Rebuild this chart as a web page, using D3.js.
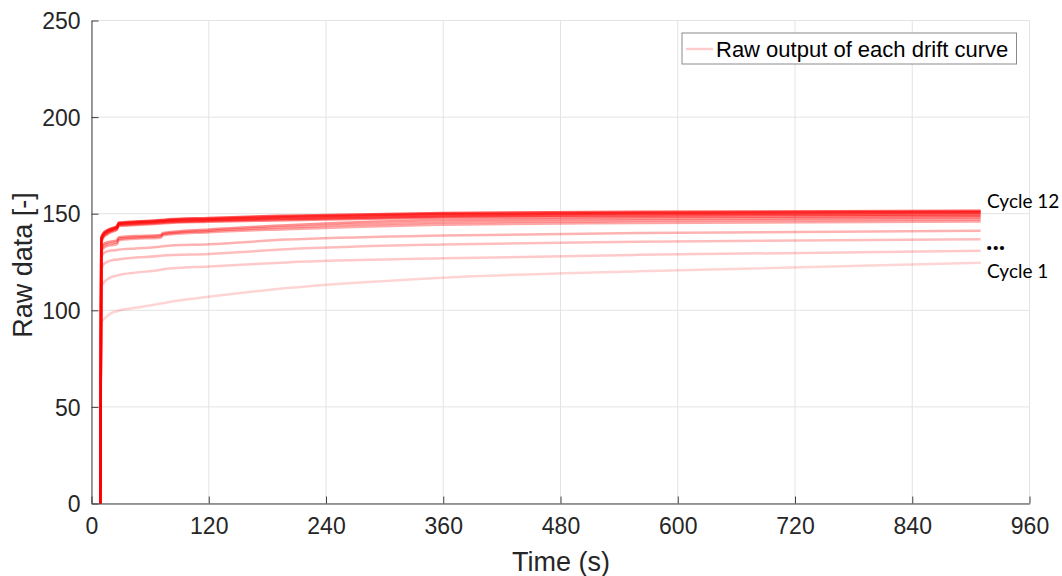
<!DOCTYPE html>
<html>
<head>
<meta charset="utf-8">
<script src="https://cdn.jsdelivr.net/npm/d3@7"></script>
<style>
  html, body { margin: 0; padding: 0; background: #fff; }
  svg { display: block; }
</style>
</head>
<body>
<svg id="chart" width="1062" height="576"></svg>
<script>
// ---- data ----
const times = [9, 10, 12, 16, 22, 26, 28, 45, 71, 73, 120, 200, 360, 560, 910];
const cycle1  = [0, 94, 95, 97, 99, 99.5, 99.8, 101.3, 103.5, 103.7, 107, 111.5, 116.9, 120.2, 124.6];
const cycle2  = [0, 112, 114, 116, 117.5, 118, 118.3, 119.5, 121, 121.2, 122.7, 124.8, 126.9, 128.7, 130.8];
const cycle3  = [0, 121, 123.5, 125, 126, 126.2, 126.4, 127.3, 128.2, 128.4, 129.2, 131.6, 134.1, 135.5, 136.8];
const cycle4  = [0, 127, 129.5, 130.5, 131, 131.2, 131.4, 132, 133, 133.2, 134.2, 136.6, 138.7, 140, 141.2];
const cycle5  = [0, 130, 132, 133.2, 133.8, 134.2, 136.3, 137, 137.6, 138.8, 140.4, 142, 144.3, 145.2, 146];
const cycle6  = [0, 131, 133.2, 134.2, 134.8, 135.2, 137, 137.7, 138.3, 139.4, 141.1, 143, 145.5, 146.3, 147];
const cycle7  = [0, 132, 134.2, 135.2, 135.8, 136.2, 137.8, 138.4, 139, 140, 141.8, 144, 146.7, 147.4, 148];
const cycle8  = [0, 135, 137.5, 139.3, 140.8, 141.7, 143.7, 144.2, 144.9, 145, 145.8, 146.6, 148, 148.4, 148.8];
const cycle9  = [0, 136, 138.2, 140, 141.4, 142.2, 144.2, 144.7, 145.4, 145.5, 146.3, 147.2, 148.6, 149.1, 149.6];
const cycle10 = [0, 136.5, 138.8, 140.5, 141.9, 142.7, 144.6, 145.2, 145.9, 146, 146.8, 147.8, 149.2, 149.8, 150.3];
const cycle11 = [0, 137, 139.3, 141, 142.3, 143.1, 145, 145.6, 146.3, 146.4, 147.3, 148.4, 149.8, 150.4, 150.9];
const cycle12 = [0, 137.5, 139.8, 141.4, 142.7, 143.5, 145.4, 146, 146.7, 146.8, 147.8, 149, 150.4, 151, 151.5];
const cycleSeries = [cycle1, cycle2, cycle3, cycle4, cycle5, cycle6, cycle7, cycle8, cycle9, cycle10, cycle11, cycle12];
const xTicks = [0, 120, 240, 360, 480, 600, 720, 840, 960];
const yTicks = [0, 50, 100, 150, 200, 250];
const xLabel = "Time (s)";
const yLabel = "Raw data [-]";
const legendLabel = "Raw output of each drift curve";
const endLabels = ["Cycle 12", "...", "Cycle 1"];

(function () {
// ---- layout ----
const svg = d3.select("#chart");
const mLeft = 91.5, mRight = 1029.5, mTop = 20.5, mBottom = 503.5;
const x = d3.scaleLinear().domain([0, 960]).range([mLeft, mRight]);
const y = d3.scaleLinear().domain([0, 250]).range([mBottom, mTop]);

// grid
const grid = svg.append("g");
grid.selectAll("line.gx").data(xTicks).join("line")
  .attr("x1", d => x(d)).attr("x2", d => x(d))
  .attr("y1", mTop).attr("y2", mBottom)
  .attr("stroke", "#e3e3e3").attr("stroke-width", 1);
grid.selectAll("line.gy").data(yTicks).join("line")
  .attr("x1", mLeft).attr("x2", mRight)
  .attr("y1", d => y(d)).attr("y2", d => y(d))
  .attr("stroke", "#e3e3e3").attr("stroke-width", 1);

// curves
const line = d3.line()
  .x((d, i) => x(times[i]))
  .y(d => y(d))
  .curve(d3.curveMonotoneX);
const op = d3.scaleLinear().domain([0, 11]).range([0.17, 0.65]);
svg.append("g").selectAll("path").data(cycleSeries).join("path")
  .attr("d", d => line(d))
  .attr("fill", "none")
  .attr("stroke", "#ff0000")
  .attr("stroke-opacity", (d, i) => op(i))
  .attr("stroke-width", 2.5)
  .attr("stroke-linejoin", "round");

// axes
const xAxis = d3.axisBottom(x).tickValues(xTicks).tickSizeInner(-7).tickSizeOuter(0).tickPadding(14);
const yAxis = d3.axisLeft(y).tickValues(yTicks).tickSizeInner(-7).tickSizeOuter(0).tickPadding(11);
const gx = svg.append("g").attr("transform", `translate(0,${mBottom})`).call(xAxis);
const gy = svg.append("g").attr("transform", `translate(${mLeft},0)`).call(yAxis);
[gx, gy].forEach(g => {
  g.select(".domain").attr("stroke", "#404040").attr("stroke-width", 1);
  g.selectAll(".tick line").attr("stroke", "#404040");
  g.selectAll(".tick text")
    .attr("fill", "#262626")
    .style("font-family", "'Liberation Sans', Arial, sans-serif")
    .style("font-size", "23px");
});
gy.selectAll(".tick text").attr("dy", "0.36em");

// axis labels
svg.append("text")
  .attr("x", 561).attr("y", 571)
  .attr("text-anchor", "middle")
  .attr("fill", "#262626")
  .style("font-family", "'Liberation Sans', Arial, sans-serif")
  .style("font-size", "27px")
  .text(xLabel);
svg.append("text")
  .attr("transform", "translate(32,265) rotate(-90)")
  .attr("text-anchor", "middle")
  .attr("fill", "#262626")
  .style("font-family", "'Liberation Sans', Arial, sans-serif")
  .style("font-size", "27px")
  .text(yLabel);

// legend
const lg = svg.append("g");
lg.append("rect")
  .attr("x", 682).attr("y", 33).attr("width", 334.5).attr("height", 31)
  .attr("fill", "#fff").attr("stroke", "#8a8a8a").attr("stroke-width", 1);
lg.append("line")
  .attr("x1", 686).attr("x2", 713).attr("y1", 49).attr("y2", 49)
  .attr("stroke", "#ff0000").attr("stroke-opacity", 0.2).attr("stroke-width", 2.4);
lg.append("text")
  .attr("x", 716).attr("y", 56.5)
  .attr("fill", "#000")
  .style("font-family", "'Liberation Sans', Arial, sans-serif")
  .style("font-size", "22px")
  .text(legendLabel);

// end annotations
const annFont = "Lato, 'Open Sans', sans-serif";
svg.append("text").attr("x", 987).attr("y", 208).attr("fill", "#000")
  .style("font-family", annFont).style("font-size", "19px").text(endLabels[0]);
svg.append("text").attr("x", 986).attr("y", 250).attr("fill", "#000")
  .style("font-family", annFont).style("font-size", "27px").style("font-weight", "bold").text(endLabels[1]);
svg.append("text").attr("x", 987).attr("y", 278).attr("fill", "#000")
  .style("font-family", annFont).style("font-size", "19px").text(endLabels[2]);
})();
</script>
</body>
</html>
